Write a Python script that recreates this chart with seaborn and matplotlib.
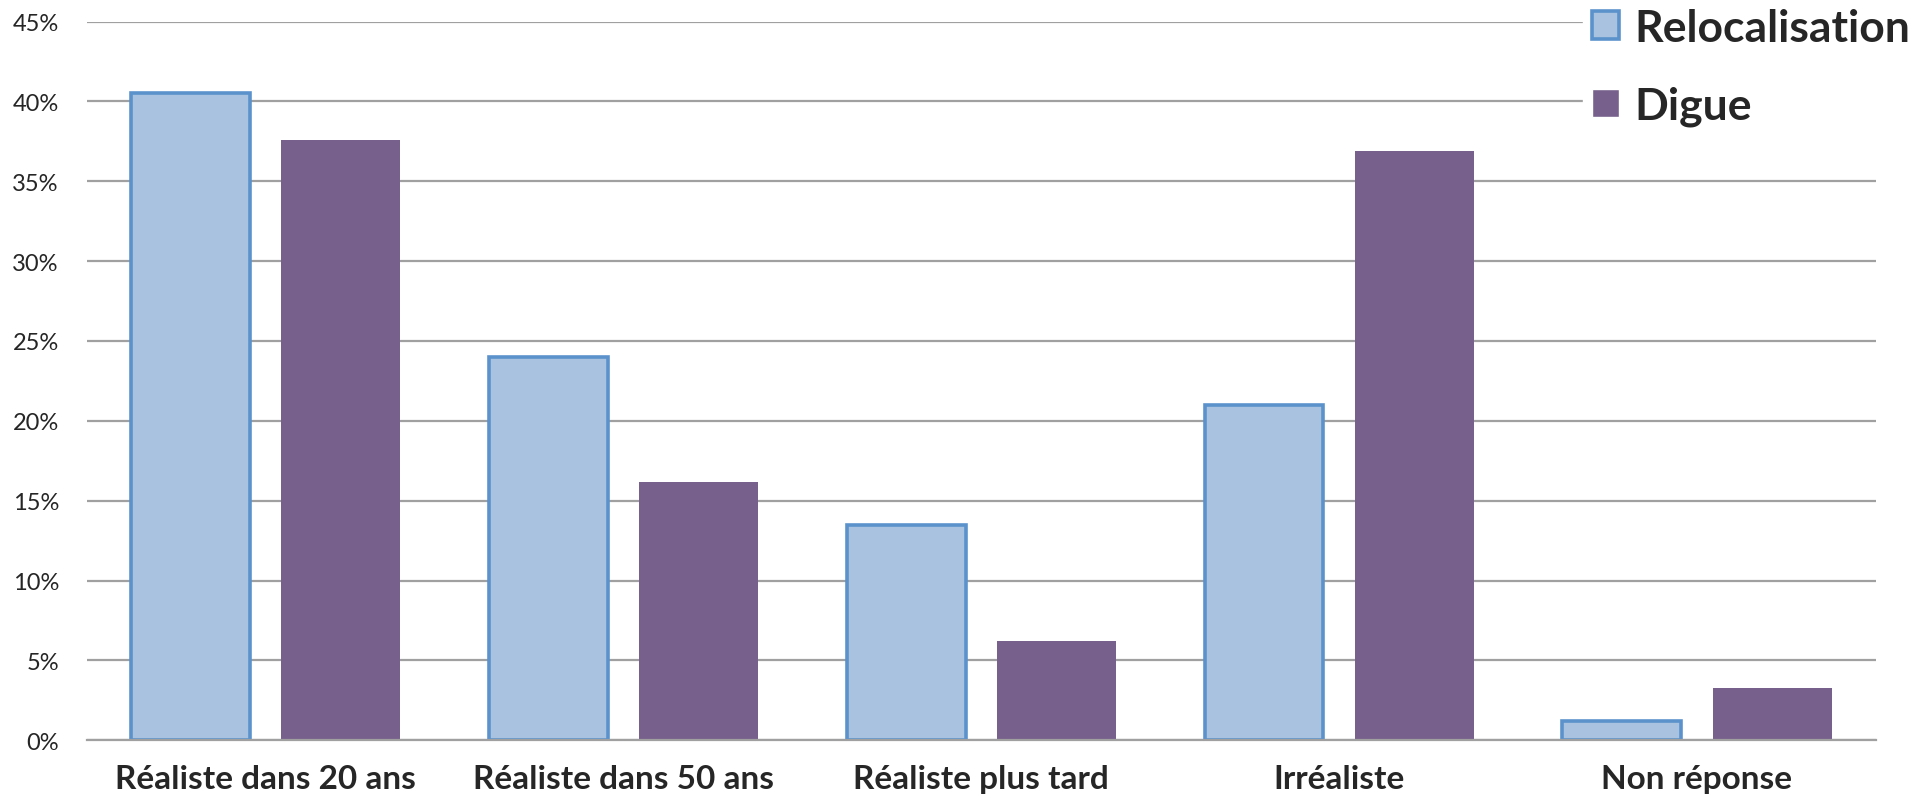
import pandas as pd
import seaborn as sns
import matplotlib.pyplot as plt
from matplotlib.ticker import FuncFormatter

# values (percent)
categories = ['Réaliste dans 20 ans', 'Réaliste dans 50 ans', 'Réaliste plus tard',
              'Irréaliste', 'Non réponse']
relocalisation = [40.5, 24.0, 13.5, 21.0, 1.2]
digue = [37.6, 16.2, 6.2, 36.9, 3.3]
series = ['Relocalisation', 'Digue']

df = pd.DataFrame({
    'categorie': categories * 2,
    'valeur': relocalisation + digue,
    'serie': [series[0]] * len(categories) + [series[1]] * len(categories),
})

sns.set_style('white')
plt.rcParams['font.family'] = ['Lato', 'DejaVu Sans']

fig = plt.figure(figsize=(19.26, 8.04), dpi=100)
ax = fig.add_axes([0.045, 0.078, 0.929, 0.894])

palette = {'Relocalisation': '#A8C2E0', 'Digue': '#77608B'}
sns.barplot(data=df, x='categorie', y='valeur', hue='serie', palette=palette,
            width=0.84, gap=0.21, saturation=1, ax=ax, legend=True)

# blue outline on the Relocalisation bars only
for bar in ax.containers[0]:
    bar.set_edgecolor('#5B92CC')
    bar.set_linewidth(2.6)
for bar in ax.containers[1]:
    bar.set_edgecolor('#77608B')
    bar.set_linewidth(0)

ax.set_ylim(0, 45)
ax.set_xlim(-0.5, len(categories) - 0.5)
ax.set_yticks(range(0, 46, 5))
ax.yaxis.set_major_formatter(FuncFormatter(lambda v, p: f'{int(v)}%'))
ax.yaxis.grid(True, color='#A0A0A0', linewidth=1.6)
ax.set_axisbelow(True)
for side in ['top', 'right', 'left']:
    ax.spines[side].set_visible(False)
ax.spines['bottom'].set_color('#A0A0A0')
ax.spines['bottom'].set_linewidth(1.6)
ax.tick_params(axis='y', length=0, pad=20, labelsize=17)
ax.tick_params(axis='x', length=0, pad=17, labelsize=24)
for lab in ax.get_xticklabels():
    lab.set_fontweight('bold')
ax.set_xlabel('')
ax.set_ylabel('')

handles, labels = ax.get_legend_handles_labels()
handles[0].set_edgecolor('#5B92CC')
handles[0].set_linewidth(2.6)
leg = ax.legend(handles, labels, loc='upper left', bbox_to_anchor=(0.822, 1.0),
                bbox_transform=fig.transFigure, frameon=True, fancybox=False,
                edgecolor='white', facecolor='white', framealpha=1,
                handlelength=0.6, handleheight=0.6, handletextpad=0.35,
                labelspacing=0.85, borderpad=0.2, borderaxespad=0,
                prop={'weight': 'bold', 'size': 32})
leg.set_zorder(5)

fig.savefig('out.png', dpi=100, facecolor='white')
